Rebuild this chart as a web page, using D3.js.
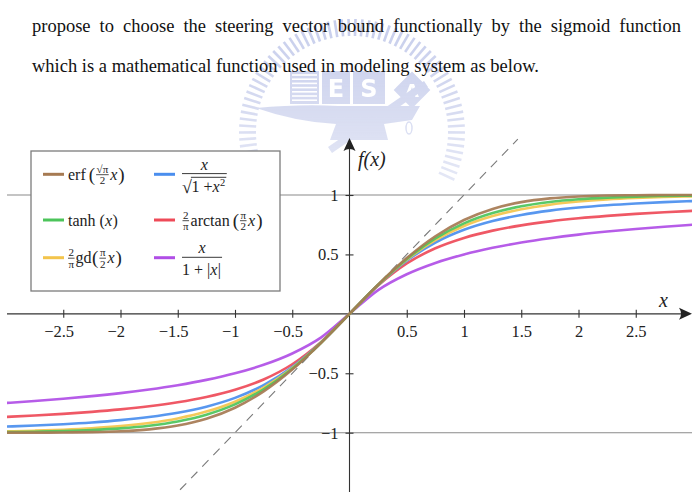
<!DOCTYPE html>
<html><head><meta charset="utf-8">
<script src="https://cdn.jsdelivr.net/npm/d3@7"></script>
<style>html,body{margin:0;padding:0;background:#fff;}svg{display:block;}</style>
</head><body>
<svg id="c" width="698" height="499"></svg>
<script>
// ---------------- data ----------------
const paragraphLine1 = ["propose","to","choose","the","steering","vector","bound","functionally","by","the","sigmoid","function"];
const paragraphLine2 = "which is a mathematical function used in modeling system as below.";
const xTicks = [-2.5, -2, -1.5, -1, -0.5, 0.5, 1, 1.5, 2, 2.5];
const xTickLabels = ["−2.5", "−2", "−1.5", "−1", "−0.5", "0.5", "1", "1.5", "2", "2.5"];
const yTicks = [-1, -0.5, 0.5, 1];
const yTickLabels = ["−1", "−0.5", "0.5", "1"];
const gridValues = [-1, 1];
const identityEnds = [-1.48, 1.47];
const xValues = [-3, -2.75, -2.5, -2.25, -2, -1.75, -1.5, -1.25, -1, -0.75, -0.5, -0.25, 0, 0.25, 0.5, 0.75, 1, 1.25, 1.5, 1.75, 2, 2.25, 2.5, 2.75, 3];
const erfValues = [-0.9998, -0.9994, -0.9983, -0.9952, -0.9878, -0.9717, -0.9399, -0.8828, -0.7899, -0.6528, -0.4691, -0.2460, 0, 0.2460, 0.4691, 0.6528, 0.7899, 0.8828, 0.9399, 0.9717, 0.9878, 0.9952, 0.9983, 0.9994, 0.9998];
const tanhValues = [-0.9951, -0.9919, -0.9866, -0.9780, -0.9640, -0.9414, -0.9051, -0.8483, -0.7616, -0.6351, -0.4621, -0.2449, 0, 0.2449, 0.4621, 0.6351, 0.7616, 0.8483, 0.9051, 0.9414, 0.9640, 0.9780, 0.9866, 0.9919, 0.9951];
const gdValues = [-0.9886, -0.9831, -0.9749, -0.9629, -0.9450, -0.9186, -0.8797, -0.8225, -0.7390, -0.6198, -0.4553, -0.2438, 0, 0.2438, 0.4553, 0.6198, 0.7390, 0.8225, 0.8797, 0.9186, 0.9450, 0.9629, 0.9749, 0.9831, 0.9886];
const sqrtValues = [-0.9487, -0.9398, -0.9285, -0.9138, -0.8944, -0.8682, -0.8321, -0.7809, -0.7071, -0.6000, -0.4472, -0.2425, 0, 0.2425, 0.4472, 0.6000, 0.7071, 0.7809, 0.8321, 0.8682, 0.8944, 0.9138, 0.9285, 0.9398, 0.9487];
const arctanValues = [-0.8669, -0.8552, -0.8413, -0.8245, -0.8038, -0.7779, -0.7445, -0.7001, -0.6391, -0.5519, -0.4238, -0.2382, 0, 0.2382, 0.4238, 0.5519, 0.6391, 0.7001, 0.7445, 0.7779, 0.8038, 0.8245, 0.8413, 0.8552, 0.8669];
const absValues = [-0.7500, -0.7333, -0.7143, -0.6923, -0.6667, -0.6364, -0.6000, -0.5556, -0.5000, -0.4286, -0.3333, -0.2000, 0, 0.2000, 0.3333, 0.4286, 0.5000, 0.5556, 0.6000, 0.6364, 0.6667, 0.6923, 0.7143, 0.7333, 0.7500];
const seriesNames = ["x/(1+|x|)", "(2/π)arctan", "x/√(1+x²)", "(2/π)gd", "tanh", "erf"];
const seriesColors = ["#b04ee6", "#ee4a58", "#4a8eee", "#f3c44c", "#4cc45a", "#a67a52"];
const seriesValues = [absValues, arctanValues, sqrtValues, gdValues, tanhValues, erfValues];

// ---------------- layout ----------------
const svg = d3.select("#c");
const SERIF = "'Liberation Serif', 'Times New Roman', serif";
const x = d3.scaleLinear().domain([-3, 3]).range([6, 693]);
const y = d3.scaleLinear().domain([-1, 1]).range([432.7, 195]);
const plotLeft = 7, plotRight = 692, plotTop = 138, plotBottom = 492;

// ---------------- watermark ----------------
const defs = svg.append("defs");
const grad = defs.append("linearGradient").attr("id", "wmg")
  .attr("gradientUnits", "userSpaceOnUse").attr("x1", 0).attr("y1", 20).attr("x2", 0).attr("y2", 250);
grad.append("stop").attr("offset", 0).attr("stop-color", "#fff").attr("stop-opacity", 1);
grad.append("stop").attr("offset", 1).attr("stop-color", "#fff").attr("stop-opacity", 0.25);
defs.append("mask").attr("id", "wmm").append("rect").attr("x", 0).attr("y", 0).attr("width", 698).attr("height", 499).attr("fill", "url(#wmg)");
const wm = svg.append("g").attr("mask", "url(#wmm)").attr("opacity", 0.5);
const wmC = "#8f9cd8", wmCx = 352, wmCy = 132;
d3.range(66).forEach(i => {
  const a = (-205 + i * (230 / 65)) * Math.PI / 180;
  wm.append("line")
    .attr("x1", wmCx + 96 * Math.cos(a)).attr("y1", wmCy + 96 * Math.sin(a))
    .attr("x2", wmCx + 113 * Math.cos(a)).attr("y2", wmCy + 113 * Math.sin(a))
    .attr("stroke", wmC).attr("stroke-width", 2.6);
});
wm.append("rect").attr("x", 290).attr("y", 71).attr("width", 29).attr("height", 33).attr("fill", wmC);
d3.range(7).forEach(i => wm.append("line").attr("x1", 292).attr("x2", 317).attr("y1", 75 + i * 4.2).attr("y2", 75 + i * 4.2).attr("stroke", "#fff").attr("stroke-width", 1.6));
wm.append("rect").attr("x", 322).attr("y", 71).attr("width", 28).attr("height", 33).attr("fill", wmC);
wm.append("rect").attr("x", 353).attr("y", 71).attr("width", 32).attr("height", 33).attr("fill", wmC);
wm.append("text").attr("x", 336).attr("y", 97).attr("text-anchor", "middle").attr("fill", "#fff").style("font", "bold 24px 'DejaVu Sans'").text("E");
wm.append("text").attr("x", 369).attr("y", 97).attr("text-anchor", "middle").attr("fill", "#fff").style("font", "bold 24px 'DejaVu Sans'").text("S");
wm.append("rect").attr("x", -13).attr("y", -13).attr("width", 26).attr("height", 26).attr("fill", wmC).attr("transform", "translate(412,90) rotate(45)");
wm.append("text").attr("x", 412).attr("y", 97).attr("text-anchor", "middle").attr("fill", "#fff").style("font", "bold 18px 'DejaVu Sans'").text("A");
wm.append("path").attr("fill", wmC).attr("d", "M256,108 Q300,104 338,106 L420,106 L412,120 L384,124 L388,140 L330,140 L336,124 Q296,122 256,108 Z");
wm.append("line").attr("x1", 330).attr("y1", 150).attr("x2", 426).attr("y2", 84).attr("stroke", wmC).attr("stroke-width", 7);
wm.append("ellipse").attr("cx", 409).attr("cy", 128).attr("rx", 3).attr("ry", 6).attr("fill", "none").attr("stroke", wmC).attr("stroke-width", 1.5);

// ---------------- paragraph ----------------
const para = svg.append("g").style("font-family", SERIF).style("font-size", "18.5px").attr("fill", "#111");
{
  const x0 = 32, x1 = 681;
  const words = paragraphLine1.map(w => para.append("text").attr("y", 32).text(w));
  const widths = words.map(t => t.node().getComputedTextLength());
  const gap = (x1 - x0 - d3.sum(widths)) / (words.length - 1);
  let cx = x0;
  words.forEach((t, i) => { t.attr("x", cx); cx += widths[i] + gap; });
  para.append("text").attr("x", x0).attr("y", 71.5).text(paragraphLine2);
}

// ---------------- grid, identity ----------------
const clip = defs.append("clipPath").attr("id", "plotclip");
clip.append("rect").attr("x", plotLeft).attr("y", plotTop).attr("width", plotRight - plotLeft).attr("height", plotBottom - plotTop);

svg.append("g").selectAll("line").data(gridValues).join("line")
  .attr("x1", plotLeft).attr("x2", plotRight)
  .attr("y1", d => y(d)).attr("y2", d => y(d))
  .attr("stroke", "#8a8a8a").attr("stroke-width", 1.1);

svg.append("line")
  .attr("x1", x(identityEnds[0])).attr("y1", y(identityEnds[0]))
  .attr("x2", x(identityEnds[1])).attr("y2", y(identityEnds[1]))
  .attr("stroke", "#7a7a7a").attr("stroke-width", 1.1).attr("stroke-dasharray", "9,7");

// ---------------- axes ----------------
const axisColor = "#333";
const x0px = x(0), y0px = y(0);
svg.append("line").attr("x1", plotLeft).attr("x2", plotRight - 4).attr("y1", y0px).attr("y2", y0px).attr("stroke", axisColor).attr("stroke-width", 1.1);
svg.append("line").attr("x1", x0px).attr("x2", x0px).attr("y1", plotBottom).attr("y2", plotTop + 4).attr("stroke", axisColor).attr("stroke-width", 1.1);
svg.append("path").attr("fill", "#222")
  .attr("d", `M${plotRight},${y0px} L${plotRight - 13},${y0px - 6} Q${plotRight - 9},${y0px} ${plotRight - 13},${y0px + 6} Z`);
svg.append("path").attr("fill", "#222")
  .attr("d", `M${x0px},${plotTop} L${x0px - 6},${plotTop + 13} Q${x0px},${plotTop + 9} ${x0px + 6},${plotTop + 13} Z`);

const xAxis = d3.axisBottom(x).tickValues(xTicks).tickSize(4).tickFormat((d, i) => xTickLabels[i]);
const gx = svg.append("g").attr("transform", `translate(0,${y0px})`).call(xAxis);
gx.select(".domain").remove();
gx.selectAll(".tick line").attr("y1", -4).attr("stroke", axisColor).attr("stroke-width", 1.1);
const minusW = (() => { const t = svg.append("text").style("font-family", SERIF).style("font-size", "16.5px").text("−"); const w = t.node().getComputedTextLength(); t.remove(); return w; })();
gx.selectAll(".tick text").attr("y", 23.5).attr("dy", null).attr("fill", "#222")
  .style("font-family", SERIF).style("font-size", "16.5px")
  .attr("dx", (d) => d < 0 ? -minusW / 2 : 0);

const yAxis = d3.axisLeft(y).tickValues(yTicks).tickSize(4).tickFormat((d, i) => yTickLabels[i]);
const gy = svg.append("g").attr("transform", `translate(${x0px},0)`).call(yAxis);
gy.select(".domain").remove();
gy.selectAll(".tick line").attr("x1", 4).attr("stroke", axisColor).attr("stroke-width", 1.1);
gy.selectAll(".tick text").attr("x", -11).attr("dy", "0.33em").attr("fill", "#222")
  .style("font-family", SERIF).style("font-size", "16.5px");

svg.append("text").attr("x", 659).attr("y", 307).attr("fill", "#222").style("font-family", SERIF).style("font-style", "italic").style("font-size", "20px").text("x");
svg.append("text").attr("x", 358).attr("y", 166).attr("fill", "#222").style("font-family", SERIF).style("font-style", "italic").style("font-size", "20px").text("f(x)");

// ---------------- curves ----------------
const line = d3.line().x(d => x(d[0])).y(d => y(d[1])).curve(d3.curveMonotoneX);
svg.append("g").attr("clip-path", "url(#plotclip)").selectAll("path")
  .data(seriesValues.map((vals, i) => ({ name: seriesNames[i], color: seriesColors[i], pts: xValues.map((xv, j) => [xv, vals[j]]) })))
  .join("path")
  .attr("d", d => line(d.pts)).attr("fill", "none")
  .attr("stroke", d => d.color).attr("stroke-width", 2.6).attr("stroke-opacity", 0.92)
  .attr("stroke-linecap", "round");

// ---------------- legend ----------------
const lg = svg.append("g").attr("fill", "#222").style("font-family", SERIF);
lg.append("rect").attr("x", 31).attr("y", 151).attr("width", 249).attr("height", 140)
  .attr("fill", "#fff").attr("stroke", "#7c7c7c").attr("stroke-width", 1.3);

function measure(t) { return t.node().getComputedTextLength(); }
function mathRow(g, x0, base, parts) {
  let cx = x0;
  parts.forEach(p => {
    if (p.frac) {
      const fs = p.size || 11;
      const n = g.append("text").attr("y", base - 7).style("font-size", fs + "px").style("font-style", p.numItalic ? "italic" : "normal").text(p.num);
      const d = g.append("text").attr("y", base + 4.5).style("font-size", fs + "px").text(p.den);
      const wn = measure(n), wd = measure(d), w = Math.max(wn, wd) + 1;
      n.attr("x", cx + (w - wn) / 2); d.attr("x", cx + (w - wd) / 2);
      g.append("line").attr("x1", cx).attr("x2", cx + w).attr("y1", base - 4.8).attr("y2", base - 4.8).attr("stroke", "#222").attr("stroke-width", 0.8);
      cx += w + (p.gap || 1);
    } else {
      const t = g.append("text").attr("x", cx).attr("y", base + (p.dy || 0)).style("font-size", (p.size || 16) + "px")
        .style("font-style", p.italic ? "italic" : "normal").text(p.s);
      cx += measure(t) + (p.gap || 0);
    }
  });
  return cx;
}
const legendSwatches = [
  { color: seriesColors[5], x: 43, y: 174.3 },
  { color: seriesColors[4], x: 43, y: 220 },
  { color: seriesColors[3], x: 43, y: 257.7 },
  { color: seriesColors[2], x: 154, y: 174.3 },
  { color: seriesColors[1], x: 154, y: 220 },
  { color: seriesColors[0], x: 154, y: 257.7 }
];
legendSwatches.forEach(s => lg.append("line").attr("x1", s.x).attr("x2", s.x + 21).attr("y1", s.y).attr("y2", s.y)
  .attr("stroke", s.color).attr("stroke-width", 3));

mathRow(lg, 68, 179.5, [{ s: "erf", gap: 3 }, { s: "(", size: 19, dy: 1, gap: 1 }, { frac: true, num: "√π", den: "2", numItalic: false, gap: 1.5 }, { s: "x", italic: true, gap: 1 }, { s: ")", size: 19, dy: 1 }]);
mathRow(lg, 68, 225.5, [{ s: "tanh", gap: 4 }, { s: "(", gap: 0 }, { s: "x", italic: true, gap: 0.5 }, { s: ")" }]);
mathRow(lg, 68, 263, [{ frac: true, num: "2", den: "π", gap: 1 }, { s: "gd", gap: 0.5 }, { s: "(", size: 19, dy: 1, gap: 1 }, { frac: true, num: "π", den: "2", gap: 1.5 }, { s: "x", italic: true, gap: 1 }, { s: ")", size: 19, dy: 1 }]);
mathRow(lg, 182.5, 225.5, [{ frac: true, num: "2", den: "π", gap: 1.5 }, { s: "arctan", gap: 3 }, { s: "(", size: 19, dy: 1, gap: 1 }, { frac: true, num: "π", den: "2", gap: 1.5 }, { s: "x", italic: true, gap: 1 }, { s: ")", size: 19, dy: 1 }]);
{
  const g = lg.append("g");
  const den = g.append("g");
  const rad = den.append("text").attr("x", 182).attr("y", 192.5).style("font-size", "18px").text("√");
  const rw = measure(rad);
  const endX = mathRow(den, 182 + rw - 0.5, 192, [{ s: "1 + ", gap: 0 }, { s: "x", italic: true, gap: 0.5 }, { s: "2", size: 10.5, dy: -6.5 }]);
  den.append("line").attr("x1", 182 + rw - 1).attr("x2", endX + 1).attr("y1", 177.3).attr("y2", 177.3).attr("stroke", "#222").attr("stroke-width", 0.9);
  g.append("line").attr("x1", 182).attr("x2", endX + 1.5).attr("y1", 173.6).attr("y2", 173.6).attr("stroke", "#222").attr("stroke-width", 0.9);
  g.append("text").attr("x", (182 + endX + 1.5) / 2).attr("y", 169.5).attr("text-anchor", "middle").style("font-size", "16px").style("font-style", "italic").text("x");
}
{
  const g = lg.append("g");
  const endX = mathRow(g, 182, 274.5, [{ s: "1 + |", gap: 0 }, { s: "x", italic: true, gap: 0.5 }, { s: "|" }]);
  g.append("line").attr("x1", 182).attr("x2", endX + 1).attr("y1", 257.3).attr("y2", 257.3).attr("stroke", "#222").attr("stroke-width", 0.9);
  g.append("text").attr("x", (182 + endX + 1) / 2).attr("y", 253).attr("text-anchor", "middle").style("font-size", "16px").style("font-style", "italic").text("x");
}
</script>
</body></html>
